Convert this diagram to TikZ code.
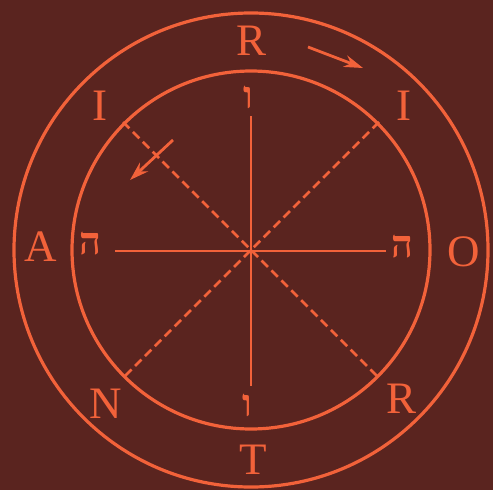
\documentclass[tikz,border=0pt]{standalone}
\usepackage{fontspec}
\setmainfont{Liberation Serif}
\newfontfamily\hebfont[Script=Hebrew]{Liberation Serif Bold}
\usetikzlibrary{arrows.meta, positioning, calc}
\definecolor{bgbrown}{RGB}{90,36,31}
\definecolor{lineorange}{RGB}{242,98,58}

\begin{document}
\begin{tikzpicture}[x=1pt, y=-1pt, >={Stealth[length=19pt,width=12pt]},
    ring/.style={draw=lineorange, line width=3.2pt},
    axis/.style={draw=lineorange, line width=2.8pt},
    diag/.style={draw=lineorange, line width=2.8pt, dash pattern=on 9pt off 5pt},
    point/.style={text=lineorange, font=\fontsize{45}{45}\selectfont, inner sep=0pt},
    heb/.style={text=lineorange, font=\hebfont\fontsize{38}{38}\selectfont, inner sep=0pt}]
      \fill[bgbrown] (0,0) rectangle (493,490);
      \useasboundingbox (0,0) rectangle (493,490);
      \coordinate (c) at (251,250);

      \draw[ring] (c) circle (237pt);
      \draw[ring] (c) circle (179pt);

      \node[point] (north) at (252,41) {R};
      \node[point] (south) at (253,460) {T};
      \node[point] (west) at (41,247) {A};
      \node[point] (east) at (464,252) {O};
      \node[point] (nw) at (100,106) {I};
      \node[point] (ne) at (404,106) {I};
      \node[point] (sw) at (106,404) {N};
      \node[point] (se) at (402,399) {R};

      \node[heb] (vavtop) at (248,97) {ו};
      \node[heb] (vavbot) at (247,405) {ו};
      \node[heb] (heleft) at (90,244) {ה};
      \node[heb] (heright) at (402,247) {ה};

      \coordinate (vt) at (251,116);
      \coordinate (vb) at (251,386);
      \coordinate (hl) at (115,251);
      \coordinate (hr) at (386,251);
      \draw[axis] (vt) -- (vb);
      \draw[axis] (hl) -- (hr);

      \coordinate (d1) at ($(c)+(-128,-128)$);
      \coordinate (d2) at ($(c)+(128,128)$);
      \coordinate (d3) at ($(c)+(128,-128)$);
      \coordinate (d4) at ($(c)+(-128,128)$);
      \draw[diag] (d1) -- (d2);
      \draw[diag] (d3) -- (d4);

      \coordinate (cw1) at (308,47);
      \coordinate (cw2) at (363,68);
      \coordinate (ccw1) at (173,140);
      \coordinate (ccw2) at (130,180);
      \draw[->, axis] (cw1) -- (cw2);
      \draw[->, axis] (ccw1) -- (ccw2);
    \end{tikzpicture}
\end{document}
